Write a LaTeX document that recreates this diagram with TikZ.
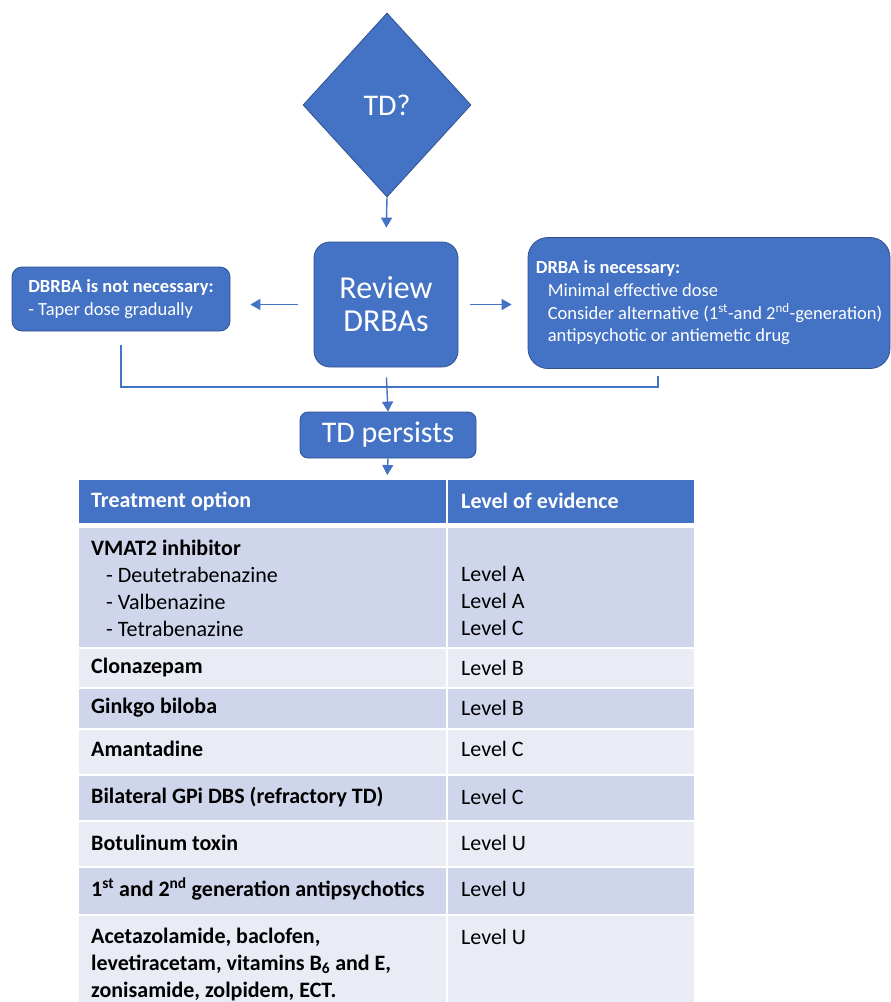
\documentclass[tikz,border=0pt]{standalone}
\usepackage{fontspec}
\setmainfont{Carlito}
\usetikzlibrary{shapes.geometric,arrows.meta}
\definecolor{tdblue}{HTML}{4472C4}
\definecolor{tdedge}{HTML}{2F528F}
\definecolor{rowdark}{HTML}{CFD5EA}
\definecolor{rowlight}{HTML}{E9EBF5}
\tikzset{
  box/.style={draw=tdedge, line width=0.8pt, fill=tdblue, text=white, rounded corners=10pt, align=left},
  link/.style={draw=tdblue, line width=1.4pt},
  arr/.style={link, -{Triangle[length=10pt,width=11pt]}},
  cell/.style={anchor=west, align=left, font=\fontsize{22}{27}\selectfont},
  bcell/.style={cell, font=\fontsize{22}{27}\selectfont\bfseries},
  head/.style={bcell, text=white}
}

\begin{document}
\begin{tikzpicture}[x=1pt,y=-1pt]
\tikzstyle{every node}+=[inner sep=0pt]
\useasboundingbox (0,0) rectangle (891,1002);
% flow part
\node [box, diamond, sharp corners, minimum width=168pt, minimum height=184pt, align=center, font=\fontsize{30}{36}\selectfont] (td) at (387,105) {TD?};
\node [box, rounded corners=16pt, minimum width=144pt, minimum height=125pt, align=center, font=\fontsize{32}{33}\selectfont] (review) at (386,304.5) {Review\\DRBAs};
\node [box, minimum width=218pt, minimum height=64pt, font=\fontsize{18.5}{23}\selectfont] (nonec) at (121,299) {\textbf{DBRBA is not necessary:}\\- Taper dose gradually};
\node [box, rounded corners=20pt, minimum width=362pt, minimum height=131pt, font=\fontsize{18.5}{22.7}\selectfont] (nec) at (709,303) {\textbf{DRBA is necessary:}\\\hspace*{12pt}Minimal effective dose\\\hspace*{12pt}Consider alternative (1\textsuperscript{st}-and 2\textsuperscript{nd}-generation)\\\hspace*{12pt}antipsychotic or antiemetic drug};
\node [box, rounded corners=8pt, minimum width=176pt, minimum height=46pt, align=center, font=\fontsize{30}{36}\selectfont] (persist) at (388,435) {TD persists};
\coordinate (join) at (386,387);
\coordinate (necfoot) at (658,376);
\coordinate (tabtop) at (387,480);
\draw [arr, shorten >=14pt] (td.south) -- (review.north);
\draw [arr, shorten <=16pt, shorten >=20pt] (review.west) -- (review.west -| nonec.east);
\draw [arr, shorten <=12pt, shorten >=16pt] (review.east) -- (review.east -| nec.west);
\draw [link] ([yshift=-14pt]nonec.south) |- (join) -| (necfoot);
\draw [arr, shorten <=10pt] (review.south) -- (persist.north);
\draw [arr, shorten >=5pt] (persist.south) -- (tabtop);
% table
\fill [tdblue] (79,480) rectangle (694,523);
\fill [rowdark] (79,528) rectangle (694,647);
\fill [rowlight] (79,649) rectangle (694,687);
\fill [rowdark] (79,689) rectangle (694,728);
\fill [rowlight] (79,730) rectangle (694,774);
\fill [rowdark] (79,776) rectangle (694,820);
\fill [rowlight] (79,822) rectangle (694,866);
\fill [rowdark] (79,868) rectangle (694,914);
\fill [rowlight] (79,916) rectangle (694,1002);
\draw [white, line width=2.5pt] (447,480) -- (447,1002);
\node [head] (hopt) at (91,501) {Treatment option};
\node [head] (hlev) at (461,501) {Level of evidence};
\node [cell] (vmat) at (91,588) {\textbf{VMAT2 inhibitor}\\\hspace*{15pt}- Deutetrabenazine\\\hspace*{15pt}- Valbenazine\\\hspace*{15pt}- Tetrabenazine};
\node [cell] (lvmat) at (461,601) {Level A\\Level A\\Level C};
\node [bcell] (clon) at (91,668) {Clonazepam};
\node [cell] (lclon) at (461,668) {Level B};
\node [bcell] (ginkgo) at (91,708) {Ginkgo biloba};
\node [cell] (lginkgo) at (461,708) {Level B};
\node [bcell] (amant) at (91,749) {Amantadine};
\node [cell] (lamant) at (461,749) {Level C};
\node [bcell] (gpi) at (91,797) {Bilateral GPi DBS (refractory TD)};
\node [cell] (lgpi) at (461,797) {Level C};
\node [bcell] (botu) at (91,843) {Botulinum toxin};
\node [cell] (lbotu) at (461,843) {Level U};
\node [bcell] (gener) at (91,889) {1\textsuperscript{st} and 2\textsuperscript{nd} generation antipsychotics};
\node [cell] (lgener) at (461,889) {Level U};
\node [bcell] (aceta) at (91,964) {Acetazolamide, baclofen,\\levetiracetam, vitamins B\textsubscript{6} and E,\\zonisamide, zolpidem, ECT.};
\node [cell] (laceta) at (461,937) {Level U};
\end{tikzpicture}
\end{document}
